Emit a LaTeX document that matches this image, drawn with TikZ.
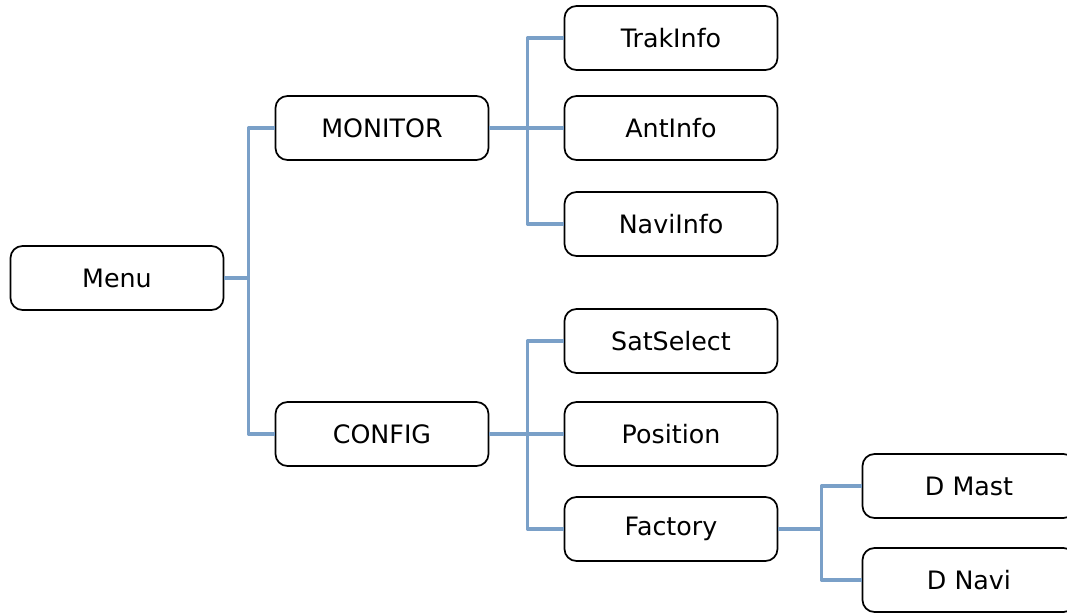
\documentclass[tikz,border=0pt]{standalone}
\usepackage{fontspec}
\setmainfont{DejaVu Sans}
\definecolor{linkblue}{RGB}{122,160,200}
\begin{document}
\begin{tikzpicture}[x=0.75pt,y=-0.75pt,line join=round,
	box/.style={draw=black,line width=1.3pt,rounded corners=9pt,minimum width=159.75pt,minimum height=48pt,inner sep=0pt,font=\fontsize{19}{22}\selectfont},
	link/.style={draw=linkblue,line width=2.6pt}]
	\useasboundingbox (0,0) rectangle (1067,612);
	\node[box] (menu) at (117,278) {Menu};
	\node[box] (monitor) at (382,128) {MONITOR};
	\node[box] (config) at (382,434) {CONFIG};
	\node[box] (trak) at (671,38) {TrakInfo};
	\node[box] (ant) at (671,128) {AntInfo};
	\node[box] (navi) at (671,224) {NaviInfo};
	\node[box] (sat) at (671,341) {SatSelect};
	\node[box] (pos) at (671,434) {Position};
	\node[box] (fact) at (671,529) {Factory};
	\node[box] (mast) at (969,486) {D Mast};
	\node[box] (dnavi) at (969,580) {D Navi};
	% menu level
	\draw[link] (menu.east) -- ++(24,0) |- (monitor.west);
	\draw[link] (menu.east) -- ++(24,0) |- (config.west);
	% monitor level
	\draw[link] (monitor.east) -- ++(38,0) |- (trak.west);
	\draw[link] (monitor.east) -- (ant.west);
	\draw[link] (monitor.east) -- ++(38,0) |- (navi.west);
	% config level
	\draw[link] (config.east) -- ++(38,0) |- (sat.west);
	\draw[link] (config.east) -- (pos.west);
	\draw[link] (config.east) -- ++(38,0) |- (fact.west);
	% factory level
	\draw[link] (fact.east) -- ++(43,0) |- (mast.west);
	\draw[link] (fact.east) -- ++(43,0) |- (dnavi.west);
\end{tikzpicture}
\end{document}
